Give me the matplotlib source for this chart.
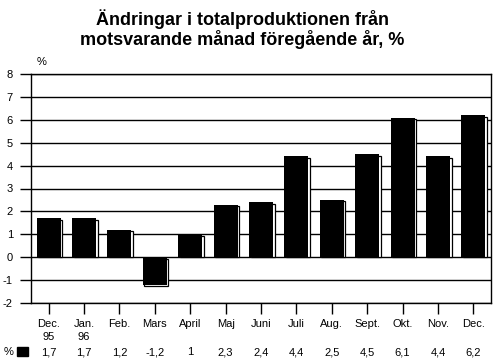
import matplotlib
matplotlib.use("Agg")
import matplotlib.pyplot as plt

plt.rcParams['font.family'] = ['Liberation Sans', 'DejaVu Sans']
plt.rcParams['axes.unicode_minus'] = False

# month labels and yearly change in total production, %
months = ["Dec.\n95", "Jan.\n96", "Feb.", "Mars", "April", "Maj", "Juni",
          "Juli", "Aug.", "Sept.", "Okt.", "Nov.", "Dec."]
values = [1.7, 1.7, 1.2, -1.2, 1.0, 2.3, 2.4, 4.4, 2.5, 4.5, 6.1, 4.4, 6.2]
value_labels = ["1,7", "1,7", "1,2", "-1,2", "1", "2,3", "2,4", "4,4",
                "2,5", "4,5", "6,1", "4,4", "6,2"]

fig = plt.figure(figsize=(4.95, 3.61), dpi=100)
ax = fig.add_axes([31 / 495, 58 / 361, 460 / 495, 229 / 361])

x = list(range(len(values)))
w = 0.68
dx = 0.045   # shadow offset, about 1.5 px
dy = 0.065

# shadow boxes first (shifted right and down), then the black bars on top
sh_bottom = [0 if v > 0 else -dy for v in values]
sh_height = [v - dy if v > 0 else v for v in values]
ax.bar([i + dx for i in x], sh_height, w, bottom=sh_bottom, color="white",
       edgecolor="black", linewidth=0.9, zorder=3)
ax.bar(x, values, w, color="black", linewidth=0, zorder=4)

ax.set_xlim(-0.5, len(values) - 0.5)
ax.set_ylim(-2, 8)
ax.set_yticks(range(-2, 9))
ax.yaxis.grid(True, color="black", linewidth=1)
ax.set_axisbelow(True)
for s in ax.spines.values():
    s.set_linewidth(1)
    s.set_color("black")

ax.set_xticks(x)
ax.set_xticklabels(months, fontsize=8, linespacing=1.35)
ax.tick_params(axis="x", direction="out", length=8, width=1, pad=3.5)
ax.tick_params(axis="y", direction="out", length=8, width=1, pad=5, labelsize=8)

ax.text(0.012, 1.03, "%", transform=ax.transAxes, fontsize=8, ha="left", va="bottom")

# data row under the chart
for i, lab in enumerate(value_labels):
    ax.text(i, -0.214, lab, transform=ax.get_xaxis_transform(), fontsize=8,
            ha="center", va="center")
fig.text(4 / 495, 1 - 352 / 361, "%", fontsize=8, ha="left", va="center")
fig.patches.append(plt.Rectangle((17 / 495, 1 - 356 / 361), 11 / 495, 9 / 361,
                                 transform=fig.transFigure, facecolor="black",
                                 edgecolor="black", linewidth=1))

fig.text(242 / 495, 1 - 29 / 361,
         "Ändringar i totalproduktionen från\nmotsvarande månad föregående år, %",
         fontsize=13, fontweight="bold", ha="center", va="center", linespacing=1.05)

fig.savefig("out.png", dpi=100)
